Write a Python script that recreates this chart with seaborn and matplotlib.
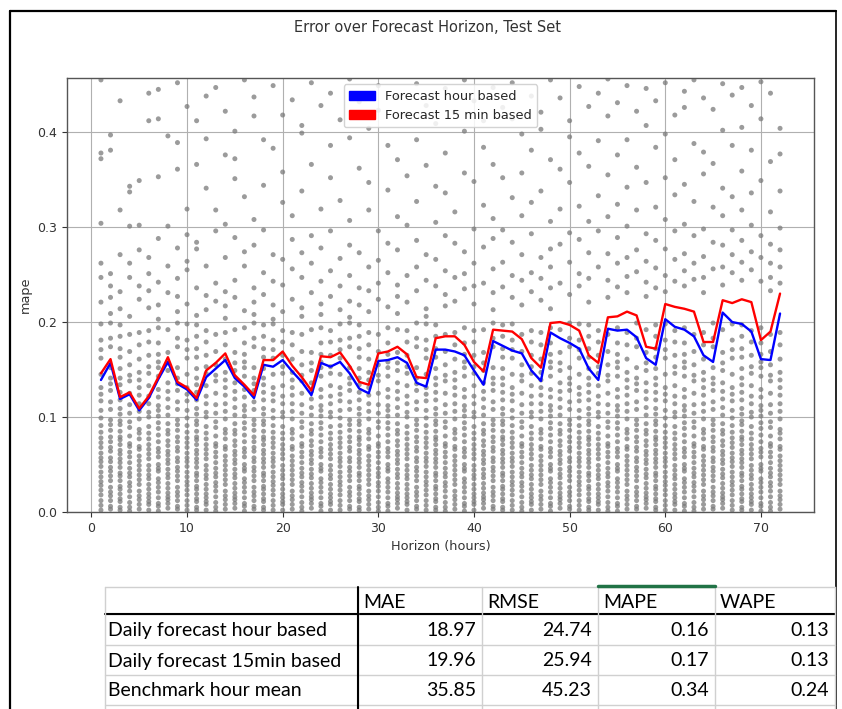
import pandas as pd
import matplotlib
matplotlib.use("Agg")
import matplotlib.pyplot as plt
import matplotlib.patches as mpatches
import seaborn as sns

# horizon 1..72 and mean mape per horizon
horizon = list(range(1, 73))
mape_hour = [0.139, 0.157, 0.119, 0.124, 0.107, 0.120, 0.140, 0.158, 0.135, 0.129,
             0.118, 0.142, 0.151, 0.160, 0.141, 0.132, 0.120, 0.155, 0.153, 0.160,
             0.148, 0.137, 0.123, 0.157, 0.153, 0.158, 0.146, 0.130, 0.125, 0.159,
             0.160, 0.163, 0.157, 0.136, 0.132, 0.171, 0.171, 0.169, 0.165, 0.149,
             0.134, 0.180, 0.175, 0.170, 0.167, 0.149, 0.138, 0.189, 0.183, 0.178,
             0.172, 0.151, 0.139, 0.193, 0.191, 0.192, 0.184, 0.162, 0.155, 0.203,
             0.195, 0.192, 0.185, 0.165, 0.158, 0.210, 0.200, 0.198, 0.190, 0.161,
             0.160, 0.209]
mape_15min = [0.146, 0.161, 0.121, 0.126, 0.109, 0.122, 0.142, 0.163, 0.137, 0.131,
              0.120, 0.149, 0.157, 0.167, 0.144, 0.134, 0.123, 0.160, 0.160, 0.169,
              0.154, 0.142, 0.128, 0.164, 0.163, 0.168, 0.154, 0.137, 0.134, 0.167,
              0.169, 0.174, 0.166, 0.142, 0.141, 0.183, 0.185, 0.185, 0.176, 0.158,
              0.148, 0.192, 0.191, 0.190, 0.182, 0.162, 0.152, 0.199, 0.200, 0.197,
              0.191, 0.165, 0.157, 0.205, 0.206, 0.211, 0.207, 0.174, 0.172, 0.219,
              0.216, 0.214, 0.211, 0.179, 0.179, 0.223, 0.220, 0.224, 0.221, 0.181,
              0.190, 0.230]

# single-day errors below 0.2: dense column shapes (estimated)
low_profiles = [
    [0.002, 0.005, 0.011, 0.014, 0.019, 0.024, 0.027, 0.033, 0.038, 0.041, 0.047, 0.052,
     0.056, 0.061, 0.065, 0.071, 0.076, 0.079, 0.085, 0.092, 0.096, 0.103, 0.109, 0.118,
     0.126, 0.134, 0.141, 0.151, 0.163, 0.172, 0.185, 0.197],
    [0.001, 0.006, 0.009, 0.015, 0.021, 0.026, 0.031, 0.035, 0.043, 0.046, 0.050, 0.058,
     0.063, 0.067, 0.074, 0.081, 0.088, 0.094, 0.101, 0.107, 0.112, 0.121, 0.129, 0.143,
     0.152, 0.158, 0.166, 0.178, 0.194],
    [0.003, 0.008, 0.013, 0.017, 0.022, 0.029, 0.034, 0.039, 0.044, 0.049, 0.054, 0.059,
     0.066, 0.069, 0.077, 0.083, 0.087, 0.098, 0.106, 0.114, 0.123, 0.131, 0.139, 0.147,
     0.161, 0.176, 0.189],
    [0.002, 0.007, 0.012, 0.018, 0.023, 0.028, 0.032, 0.037, 0.042, 0.048, 0.053, 0.057,
     0.062, 0.068, 0.073, 0.078, 0.084, 0.091, 0.099, 0.107, 0.117, 0.124, 0.131, 0.145,
     0.162, 0.171, 0.181, 0.198],
    [0.004, 0.009, 0.013, 0.016, 0.020, 0.025, 0.030, 0.036, 0.040, 0.045, 0.051, 0.055,
     0.060, 0.064, 0.070, 0.075, 0.082, 0.086, 0.093, 0.102, 0.110, 0.119, 0.127, 0.136,
     0.149, 0.157, 0.168, 0.192],
    [0.001, 0.005, 0.010, 0.016, 0.022, 0.027, 0.031, 0.037, 0.041, 0.046, 0.052, 0.058,
     0.063, 0.069, 0.072, 0.080, 0.089, 0.095, 0.104, 0.113, 0.125, 0.138, 0.144, 0.155,
     0.169, 0.187],
    [0.003, 0.006, 0.012, 0.017, 0.021, 0.026, 0.033, 0.038, 0.043, 0.047, 0.053, 0.057,
     0.064, 0.068, 0.074, 0.079, 0.086, 0.092, 0.097, 0.108, 0.116, 0.128, 0.135, 0.141,
     0.152, 0.174, 0.183, 0.199],
    [0.002, 0.008, 0.011, 0.015, 0.019, 0.024, 0.029, 0.035, 0.039, 0.044, 0.049, 0.056,
     0.061, 0.066, 0.071, 0.077, 0.083, 0.090, 0.100, 0.105, 0.114, 0.122, 0.133, 0.146,
     0.153, 0.165, 0.179, 0.191],
]
profile_of_horizon = [3, 6, 0, 5, 2, 7, 1, 4, 6, 3, 0, 7, 5, 2, 4, 1, 6, 0, 3, 7,
                      2, 5, 4, 1, 7, 3, 6, 0, 2, 5, 1, 4, 7, 6, 3, 0, 5, 2, 1, 7,
                      4, 6, 0, 3, 5, 7, 2, 1, 4, 6, 3, 0, 7, 5, 1, 2, 6, 4, 0, 3,
                      7, 1, 5, 2, 6, 4, 3, 0, 7, 1, 5, 2]

# single-day errors above 0.2, one list per horizon (estimated)
high_points = [
    [0.455, 0.378, 0.372, 0.304, 0.262, 0.247, 0.221], [0.397, 0.381, 0.251, 0.238, 0.226, 0.209],
    [0.433, 0.318, 0.271, 0.232, 0.214], [0.343, 0.337, 0.301, 0.262, 0.247, 0.206],
    [0.349, 0.302, 0.276, 0.238, 0.224], [0.441, 0.412, 0.268, 0.251, 0.233, 0.215],
    [0.445, 0.414, 0.353, 0.288, 0.242, 0.218, 0.203], [0.396, 0.301, 0.259, 0.231],
    [0.452, 0.389, 0.361, 0.278, 0.246, 0.227, 0.211], [0.427, 0.319, 0.292, 0.264, 0.255, 0.219],
    [0.412, 0.366, 0.284, 0.277, 0.236, 0.207], [0.438, 0.393, 0.341, 0.259, 0.228, 0.213],
    [0.447, 0.318, 0.296, 0.241, 0.222], [0.422, 0.376, 0.303, 0.268, 0.232, 0.217, 0.204],
    [0.401, 0.372, 0.351, 0.289, 0.244, 0.226], [0.455, 0.332, 0.274, 0.259, 0.212],
    [0.437, 0.417, 0.308, 0.281, 0.236, 0.221, 0.208], [0.392, 0.344, 0.297, 0.252, 0.229],
    [0.449, 0.383, 0.271, 0.243, 0.218, 0.203], [0.418, 0.358, 0.326, 0.266, 0.239, 0.211],
    [0.434, 0.312, 0.287, 0.256, 0.224], [0.407, 0.399, 0.338, 0.273, 0.247, 0.215, 0.206],
    [0.452, 0.366, 0.291, 0.262, 0.231], [0.428, 0.319, 0.278, 0.243, 0.219, 0.208],
    [0.441, 0.386, 0.352, 0.296, 0.254, 0.227], [0.413, 0.328, 0.267, 0.238, 0.213],
    [0.456, 0.394, 0.307, 0.281, 0.249, 0.222, 0.205], [0.432, 0.362, 0.273, 0.236, 0.218],
    [0.404, 0.347, 0.318, 0.258, 0.233, 0.211], [0.449, 0.423, 0.296, 0.265, 0.241, 0.224],
    [0.386, 0.339, 0.283, 0.252, 0.216], [0.437, 0.371, 0.311, 0.276, 0.239, 0.227, 0.209],
    [0.419, 0.354, 0.302, 0.249, 0.221], [0.451, 0.392, 0.327, 0.286, 0.258, 0.233],
    [0.428, 0.365, 0.271, 0.244, 0.214, 0.206], [0.409, 0.343, 0.305, 0.266, 0.238],
    [0.446, 0.378, 0.336, 0.291, 0.254, 0.229, 0.217], [0.421, 0.316, 0.283, 0.247, 0.222],
    [0.455, 0.401, 0.357, 0.274, 0.251, 0.235], [0.433, 0.348, 0.298, 0.262, 0.238, 0.219],
    [0.412, 0.384, 0.323, 0.279, 0.241], [0.447, 0.366, 0.309, 0.288, 0.256, 0.231, 0.213],
    [0.426, 0.352, 0.297, 0.263, 0.237], [0.452, 0.414, 0.331, 0.284, 0.249, 0.226],
    [0.398, 0.357, 0.312, 0.271, 0.244, 0.218], [0.438, 0.381, 0.326, 0.293, 0.252, 0.232],
    [0.421, 0.403, 0.338, 0.268, 0.246, 0.223], [0.455, 0.371, 0.306, 0.277, 0.258, 0.236, 0.214],
    [0.436, 0.361, 0.319, 0.282, 0.241], [0.412, 0.395, 0.347, 0.294, 0.263, 0.229],
    [0.448, 0.378, 0.322, 0.287, 0.251, 0.238], [0.427, 0.364, 0.306, 0.273, 0.246, 0.221],
    [0.441, 0.391, 0.333, 0.296, 0.258], [0.456, 0.417, 0.355, 0.311, 0.272, 0.244, 0.226],
    [0.431, 0.376, 0.324, 0.289, 0.262, 0.237], [0.449, 0.392, 0.342, 0.301, 0.268, 0.248, 0.231],
    [0.422, 0.363, 0.318, 0.276, 0.253], [0.446, 0.407, 0.347, 0.293, 0.264, 0.242, 0.227],
    [0.433, 0.384, 0.321, 0.286, 0.257, 0.236], [0.452, 0.398, 0.352, 0.308, 0.277, 0.249, 0.232],
    [0.418, 0.371, 0.334, 0.296, 0.266, 0.243], [0.443, 0.426, 0.345, 0.303, 0.272, 0.254, 0.238],
    [0.455, 0.388, 0.327, 0.291, 0.262, 0.245], [0.436, 0.379, 0.356, 0.298, 0.269, 0.247, 0.231],
    [0.424, 0.367, 0.321, 0.284, 0.256], [0.451, 0.402, 0.341, 0.312, 0.281, 0.258, 0.239],
    [0.439, 0.386, 0.332, 0.297, 0.271, 0.252], [0.447, 0.405, 0.359, 0.318, 0.286, 0.263, 0.244],
    [0.428, 0.381, 0.336, 0.302, 0.274, 0.255], [0.453, 0.414, 0.349, 0.291, 0.268, 0.243],
    [0.441, 0.369, 0.316, 0.282, 0.262, 0.247, 0.233], [0.404, 0.377, 0.338, 0.299, 0.276, 0.258, 0.241],
]

# summary table
row_names = ["Daily forecast hour based", "Daily forecast 15min based", "Benchmark hour mean"]
col_names = ["MAE", "RMSE", "MAPE", "WAPE"]
mae = [18.97, 19.96, 35.85]
rmse = [24.74, 25.94, 45.23]
mape_tab = [0.16, 0.17, 0.34]
wape = [0.13, 0.13, 0.24]

rows = []
for h, p, hi in zip(horizon, profile_of_horizon, high_points):
    for v in low_profiles[p] + hi:
        rows.append({"horizon": h, "mape": v})
pts = pd.DataFrame(rows)
lines = pd.DataFrame({"horizon": horizon, "hour": mape_hour, "m15": mape_15min})

sns.set_style("white")
plt.rcParams["font.family"] = ["DejaVu Sans"]

W, H = 842, 709
fig = plt.figure(figsize=(W / 100, H / 100), dpi=100)
ax = fig.add_axes([67 / W, 1 - 512 / H, (814 - 67) / W, (512 - 78) / H])

sns.scatterplot(data=pts, x="horizon", y="mape", ax=ax, color="#7a7a7a", s=13,
                alpha=0.75, edgecolor="none", zorder=2)
sns.lineplot(data=lines, x="horizon", y="hour", ax=ax, color="blue", lw=1.7, zorder=3)
sns.lineplot(data=lines, x="horizon", y="m15", ax=ax, color="red", lw=1.7, zorder=4)

ax.set_ylim(0, 0.457)
ax.set_xlim(-2.55, 75.55)
ax.set_xticks(range(0, 80, 10))
ax.set_yticks([0.0, 0.1, 0.2, 0.3, 0.4])
ax.yaxis.set_major_formatter(matplotlib.ticker.FormatStrFormatter("%.1f"))
ax.grid(True, color="#b0b0b0", lw=0.8)
ax.tick_params(axis="both", labelsize=9, length=3.5, width=0.8, left=True, bottom=True, colors="#333333")
for s in ax.spines.values():
    s.set_color("#555555")
    s.set_linewidth(1.0)
ax.set_xlabel("Horizon (hours)", fontsize=9.3, color="#333333")
ax.set_ylabel("mape", fontsize=9.3, color="#333333")

handles = [mpatches.Patch(color="blue", label="Forecast hour based"),
           mpatches.Patch(color="red", label="Forecast 15 min based")]
ax.legend(handles=handles, loc="upper center", fontsize=9.3, framealpha=0.85,
          borderaxespad=0.5, handlelength=2.0)

fig.text(428 / W, 1 - 28 / H, "Error over Forecast Horizon, Test Set",
         ha="center", va="center", fontsize=10.5, color="#333333")

# overlay for frame and table, in pixel units
ov = fig.add_axes([0, 0, 1, 1])
ov.set_xlim(0, W)
ov.set_ylim(H, 0)
ov.set_axis_off()
ov.plot([10, 10], [11, H], color="black", lw=1.6)
ov.plot([10, 836], [11, 11], color="black", lw=1.6)
ov.plot([836, 836], [11, H], color="black", lw=1.2)

col_x = [105, 358, 482, 598, 715, 835]
row_y = [587, 614, 645, 675, 705]
for y in row_y:
    ov.plot([col_x[0], col_x[-1]], [y, y], color="#d0d0d0", lw=1.0)
ov.plot([col_x[0], col_x[-1]], [614, 614], color="black", lw=1.5)
for x in col_x:
    ov.plot([x, x], [587, H], color="#d0d0d0", lw=1.0)
ov.plot([358, 358], [587, H], color="black", lw=1.5)
ov.plot([598, 715], [586, 586], color="#217346", lw=2.5)

tfont = {"family": "Lato", "fontsize": 14, "color": "black"}
for j, c in enumerate(col_names):
    ov.text(col_x[j + 1] + 5, 602, c, ha="left", va="center", **tfont)
vals = [mae, rmse, mape_tab, wape]
for i, name in enumerate(row_names):
    yc = (row_y[i + 1] + row_y[i + 2]) / 2 + 1
    ov.text(col_x[0] + 3, yc, name, ha="left", va="center", **tfont)
    for j, col in enumerate(vals):
        ov.text(col_x[j + 2] - 6, yc, f"{col[i]:.2f}", ha="right", va="center", **tfont)

fig.savefig("out.png", dpi=100)
